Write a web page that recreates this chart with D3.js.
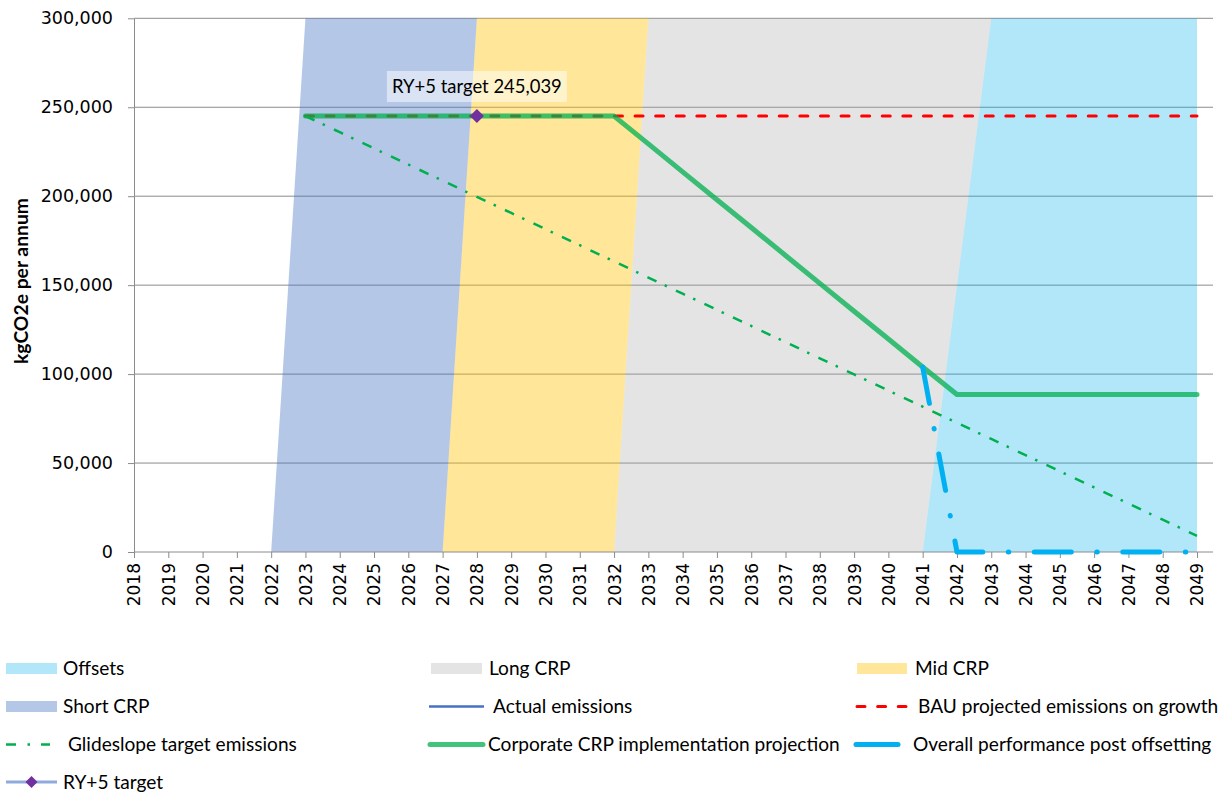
<!DOCTYPE html>
<html><head><meta charset="utf-8">
<script src="https://cdn.jsdelivr.net/npm/d3@7"></script>
<style>body{margin:0;background:#fff;} svg{display:block;}</style>
</head><body>
<svg id="chart" width="1230" height="796"></svg>
<script>
// ---------------- DATA ----------------
const years = [2018,2019,2020,2021,2022,2023,2024,2025,2026,2027,2028,2029,2030,2031,2032,2033,
               2034,2035,2036,2037,2038,2039,2040,2041,2042,2043,2044,2045,2046,2047,2048,2049];
// stacked shaded periods (bottom → top: Offsets, Long, Mid, Short)
const offsets  = [0,0,0,0,0,0,0,0,0,0,0,0,0,0,0,0,0,0,0,0,0,0,0,0,150000,300000,300000,300000,300000,300000,300000,300000];
const longCRP  = [0,0,0,0,0,0,0,0,0,0,0,0,0,0,0,300000,300000,300000,300000,300000,300000,300000,300000,300000,150000,0,0,0,0,0,0,0];
const midCRP   = [0,0,0,0,0,0,0,0,0,0,300000,300000,300000,300000,300000,0,0,0,0,0,0,0,0,0,0,0,0,0,0,0,0,0];
const shortCRP = [0,0,0,0,0,300000,300000,300000,300000,300000,0,0,0,0,0,0,0,0,0,0,0,0,0,0,0,0,0,0,0,0,0,0];
// line series (null = no value)
const bau        = [null,null,null,null,null,245039,245039,245039,245039,245039,245039,245039,245039,245039,245039,245039,
                    245039,245039,245039,245039,245039,245039,245039,245039,245039,245039,245039,245039,245039,245039,245039,245039];
const glideslope = [null,null,null,null,null,245039,235963,226888,217812,208737,199661,190586,181510,172435,163359,154284,
                    145208,136133,127057,117982,108906,99831,90755,81680,72604,63529,54453,45378,36302,27227,18151,9076];
const corporate  = [null,null,null,null,null,245039,245039,245039,245039,245039,245039,245039,245039,245039,245039,229400,
                    213700,198000,182400,166700,151000,135300,119700,104000,88500,88500,88500,88500,88500,88500,88500,88500];
const overall    = [null,null,null,null,null,null,null,null,null,null,null,null,null,null,null,null,
                    null,null,null,null,null,null,null,104000,0,0,0,0,0,0,0,0];
const ryYears  = [2028];
const ryValues = [245039];
const ryLabel  = "RY+5 target 245,039";
const yTicks = [0,50000,100000,150000,200000,250000,300000];
const yTitle = "kgCO2e per annum";

// ---------------- SETUP ----------------
const svg = d3.select("#chart");
const X0 = 134, X1 = 1197, XR = 1213, Y0 = 552, Y1 = 18.3;
const x = d3.scaleLinear().domain([2018, 2049]).range([X0, X1]);
const y = d3.scaleLinear().domain([0, 300000]).range([Y0, Y1]);
const GRID = "#8c8c8c";
const SANS = "'Lato', 'Noto Sans', sans-serif";
const AXISF = "'DejaVu Sans', sans-serif";

function fitSize(family, weight, sample, target) {
  const t = svg.append("text").style("font-family", family).style("font-weight", weight)
    .style("font-size", "100px").text(sample);
  const w = t.node().getComputedTextLength();
  t.remove();
  return 100 * target / w;
}
const legendSize = fitSize(SANS, "normal", "Glideslope target emissions", 229);
const labelSize = fitSize(SANS, "normal", ryLabel, 170);
const titleSize = fitSize(SANS, "bold", yTitle, 166);

// gridlines
svg.append("g").selectAll("line").data(yTicks.filter(d => d > 0)).join("line")
  .attr("x1", X0).attr("x2", XR).attr("y1", d => y(d)).attr("y2", d => y(d))
  .attr("stroke", GRID).attr("stroke-width", 1);

// stacked areas
const table = years.map((yr, i) => ({year: yr, offsets: offsets[i], long: longCRP[i], mid: midCRP[i], short: shortCRP[i]}));
const stack = d3.stack().keys(["offsets", "long", "mid", "short"]);
const areaColors = {offsets: ["#00B0F0", 0.3], long: ["#A5A5A5", 0.3], mid: ["#FFC000", 0.4], short: ["#4472C4", 0.4]};
const area = d3.area().x(d => x(d.data.year)).y0(d => y(d[0])).y1(d => y(d[1]));
svg.append("g").selectAll("path").data(stack(table)).join("path")
  .attr("d", area)
  .attr("fill", d => areaColors[d.key][0])
  .attr("fill-opacity", d => areaColors[d.key][1]);

// axes
const yAxis = d3.axisLeft(y).tickValues(yTicks).tickFormat(d3.format(",")).tickSizeInner(6).tickSizeOuter(0).tickPadding(15);
const gy = svg.append("g").attr("transform", `translate(${X0},0)`).call(yAxis);
gy.select(".domain").attr("stroke", GRID);
gy.selectAll(".tick line").attr("stroke", GRID);
gy.selectAll("text").attr("fill", "#000").style("font-family", AXISF).style("font-size", "17.5px");

const xAxis = d3.axisBottom(x).tickValues(years).tickFormat(d3.format("d")).tickSizeInner(6).tickSizeOuter(0).tickPadding(5);
const gx = svg.append("g").attr("transform", `translate(0,${Y0})`).call(xAxis);
gx.select(".domain").remove();
gx.append("line").attr("x1", X0).attr("x2", XR).attr("y1", 0).attr("y2", 0).attr("stroke", GRID);
gx.selectAll(".tick line").attr("stroke", GRID);
gx.selectAll("text").attr("fill", "#000").style("font-family", AXISF).style("font-size", "17px")
  .attr("transform", "rotate(-90)").attr("text-anchor", "end").attr("x", -11).attr("y", 0).attr("dy", "0.35em");

// y title
svg.append("text").attr("transform", `translate(21,281) rotate(-90)`).attr("text-anchor", "middle")
  .attr("dy", "0.35em").style("font-family", SANS).style("font-weight", "bold")
  .style("font-size", titleSize + "px").text(yTitle);

// lines
const line = d3.line().defined(d => d[1] != null).x(d => x(d[0])).y(d => y(d[1]));
const pts = arr => years.map((yr, i) => [yr, arr[i]]);
svg.append("path").attr("d", line(pts(bau))).attr("fill", "none").attr("stroke", "#FF0000")
  .attr("stroke-width", 3).attr("stroke-dasharray", "8,12.6").attr("stroke-linecap", "round");
svg.append("path").attr("d", line(pts(glideslope))).attr("fill", "none").attr("stroke", "#00B050")
  .attr("stroke-width", 2.5).attr("stroke-dasharray", "10,9,2.5,10");
svg.append("path").attr("d", line(pts(corporate))).attr("fill", "none").attr("stroke", "#00B050")
  .attr("stroke-opacity", 0.75).attr("stroke-width", 5).attr("stroke-linejoin", "round").attr("stroke-linecap", "round");
svg.append("path").attr("d", line(pts(overall))).attr("fill", "none").attr("stroke", "#00B0F0")
  .attr("stroke-width", 5).attr("stroke-linecap", "round").attr("stroke-linejoin", "round")
  .attr("stroke-dasharray", "37,25.5,0.5,25.5");

// RY+5 marker & label
const diamond = d3.symbol().type(d3.symbolSquare).size(98);
svg.append("g").selectAll("path").data(ryYears).join("path")
  .attr("d", diamond).attr("transform", (d, i) => `translate(${x(d)},${y(ryValues[i])}) rotate(45)`)
  .attr("fill", "#7030A0");
const lx = x(ryYears[0]);
svg.append("rect").attr("x", lx - 90).attr("y", 71).attr("width", 180).attr("height", 31)
  .attr("fill", "#fff").attr("fill-opacity", 0.5);
svg.append("text").attr("x", lx).attr("y", 87).attr("dy", "0.35em").attr("text-anchor", "middle")
  .style("font-family", SANS).style("font-size", labelSize + "px").text(ryLabel);

// legend
const legend = [
  {t: "Offsets", kind: "box", c: "#00B0F0", o: 0.3, x1: 6, x2: 57, tx: 63, y: 668.5},
  {t: "Long CRP", kind: "box", c: "#A5A5A5", o: 0.3, x1: 431, x2: 482, tx: 489, y: 668.5},
  {t: "Mid CRP", kind: "box", c: "#FFC000", o: 0.4, x1: 857, x2: 907, tx: 915, y: 668.5},
  {t: "Short CRP", kind: "box", c: "#4472C4", o: 0.4, x1: 6, x2: 57, tx: 63, y: 706.5},
  {t: "Actual emissions", kind: "line", c: "#4472C4", w: 2.5, x1: 429, x2: 484, tx: 493, y: 706.5},
  {t: "BAU projected emissions on growth", kind: "line", c: "#FF0000", w: 3, dash: "8,12.6", cap: "round", x1: 857, x2: 906, tx: 918, y: 706.5},
  {t: "Glideslope target emissions", kind: "line", c: "#00B050", w: 2.5, dash: "10,11.5,2.5,11", x1: 6, x2: 50, tx: 68, y: 744.5},
  {t: "Corporate CRP implementation projection", kind: "line", c: "#00B050", o: 0.75, w: 5, cap: "round", x1: 430, x2: 483, tx: 488, y: 744.5},
  {t: "Overall performance post offsetting", kind: "line", c: "#00B0F0", w: 5, cap: "round", x1: 856, x2: 898, tx: 913, y: 744.5},
  {t: "RY+5 target", kind: "marker", c: "#8FAADC", w: 3, x1: 6, x2: 57, tx: 63, y: 782}
];
const lg = svg.append("g");
legend.forEach(d => {
  if (d.kind === "box") {
    lg.append("rect").attr("x", d.x1).attr("y", d.y - 5.5).attr("width", d.x2 - d.x1).attr("height", 11)
      .attr("fill", d.c).attr("fill-opacity", d.o);
  } else {
    lg.append("line").attr("x1", d.x1).attr("x2", d.x2).attr("y1", d.y).attr("y2", d.y)
      .attr("stroke", d.c).attr("stroke-width", d.w).attr("stroke-opacity", d.o || 1)
      .attr("stroke-dasharray", d.dash || null).attr("stroke-linecap", d.cap || "butt");
    if (d.kind === "marker") {
      lg.append("path").attr("d", d3.symbol().type(d3.symbolSquare).size(72)())
        .attr("transform", `translate(${(d.x1 + d.x2) / 2},${d.y}) rotate(45)`).attr("fill", "#7030A0");
    }
  }
  lg.append("text").attr("x", d.tx).attr("y", d.y).attr("dy", "0.35em")
    .style("font-family", SANS).style("font-size", legendSize + "px").text(d.t);
});
</script>
</body></html>
